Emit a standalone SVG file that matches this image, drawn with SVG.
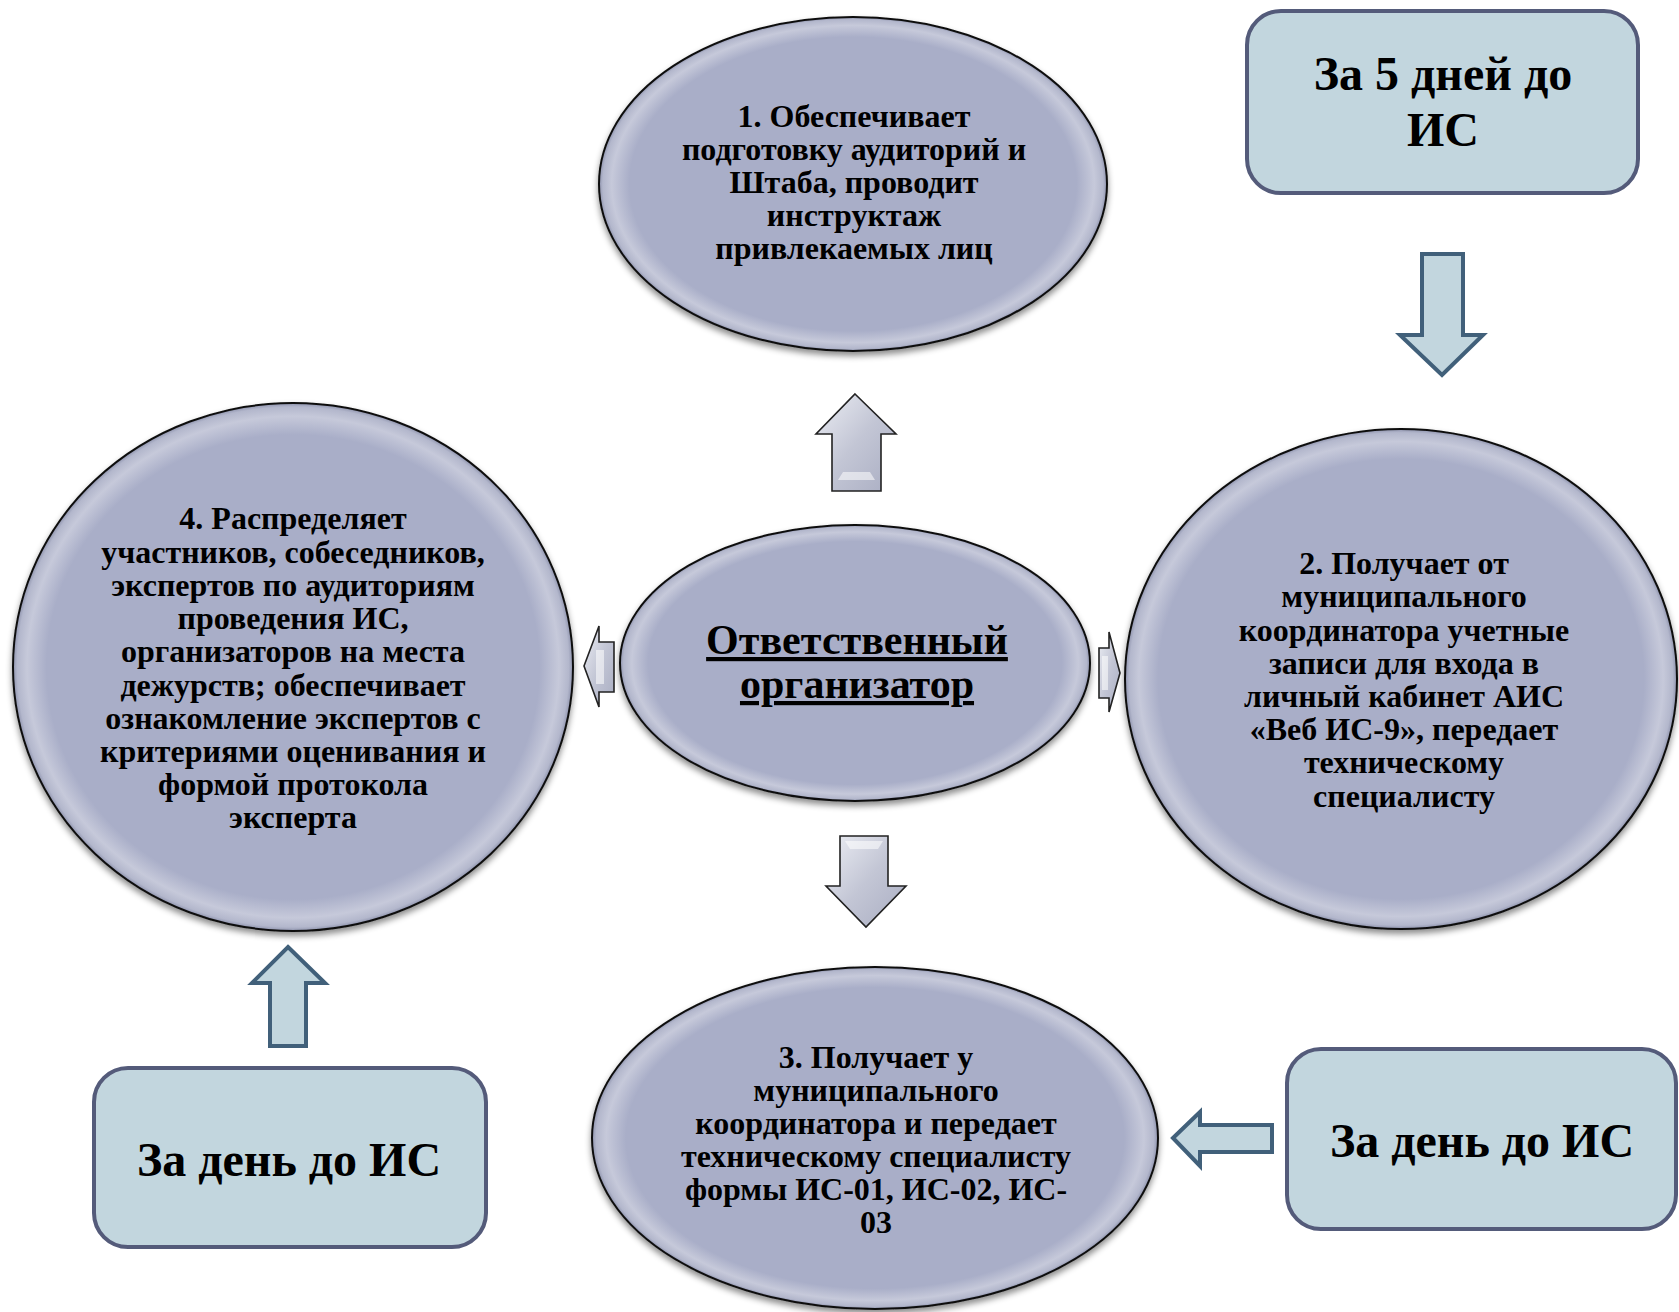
<svg xmlns="http://www.w3.org/2000/svg" width="1679" height="1312" viewBox="0 0 1679 1312">
<defs>
<radialGradient id="ellFill" cx="0.5" cy="0.5" r="0.5">
<stop offset="0" stop-color="#a9aec8"/>
<stop offset="0.88" stop-color="#a9aec8"/>
<stop offset="0.95" stop-color="#c6c9da"/>
<stop offset="0.985" stop-color="#b3b7cc"/>
<stop offset="1" stop-color="#8e93ad"/>
</radialGradient>
<linearGradient id="arrFill" x1="0" y1="0" x2="1" y2="1">
<stop offset="0" stop-color="#eceef4"/>
<stop offset="0.5" stop-color="#c3c6d5"/>
<stop offset="1" stop-color="#a9adc2"/>
</linearGradient>
<filter id="shadow" x="-10%" y="-10%" width="120%" height="125%">
<feDropShadow dx="0" dy="4" stdDeviation="3" flood-color="#000" flood-opacity="0.45"/>
</filter>
</defs>
<style>
.ell{fill:url(#ellFill);stroke:#111;stroke-width:2;filter:url(#shadow)}
.box{fill:#c2d6de;stroke:#545b7a;stroke-width:4}
.barrow{fill:#c2d6de;stroke:#41607a;stroke-width:4;stroke-linejoin:miter}
.garrow{fill:url(#arrFill);stroke:#222;stroke-width:1.6;stroke-linejoin:miter}
.hl{fill:#fff;opacity:0.55}
.t{font-family:"Liberation Serif","Times New Roman",serif;font-weight:bold;fill:#000;text-anchor:middle}
.n{font-size:32px}
.big{font-size:48px}
.ctr{font-size:42px;text-decoration:underline}
</style>
<rect width="1679" height="1312" fill="#fff"/>

<g id="connectors">
<polygon class="barrow" points="1422,254 1463,254 1463,335 1483,335 1442,375 1400,335 1422,335"/>
<polygon class="barrow" points="288,947 325,983 306,983 306,1046 270,1046 270,983 252,983"/>
<polygon class="barrow" points="1173,1138 1200,1112 1200,1125 1272,1125 1272,1152 1200,1152 1200,1166"/>
<polygon class="garrow" points="855,394 896,434 881,434 881,491 832,491 832,434 816,434"/>
<polygon class="hl" points="838,480 875,480 870,472 843,472"/>
<polygon class="garrow" points="840,836 888,836 888,886 906,886 866,927 826,886 840,886"/>
<polygon class="hl" points="845,841 883,841 878,849 850,849"/>
<polygon class="garrow" points="584,666 599,626 599,642 614,642 614,692 599,692 599,707"/>
<polygon class="hl" points="596,650 604,650 604,684 596,684"/>
<polygon class="garrow" points="1120,673 1109,632 1109,648 1099,648 1099,698 1109,698 1109,712"/>
<polygon class="hl" points="1102,656 1108,656 1108,690 1102,690"/>
</g>

<g id="node1">
<ellipse class="ell" cx="853" cy="184" rx="254" ry="167"/>
<text class="t n"><tspan x="854" y="127">1. Обеспечивает</tspan><tspan x="854" y="160">подготовку аудиторий и</tspan><tspan x="854" y="193">Штаба, проводит</tspan><tspan x="854" y="226">инструктаж</tspan><tspan x="854" y="259">привлекаемых лиц</tspan></text>
</g>

<g id="node2">
<ellipse class="ell" cx="1401" cy="679" rx="276" ry="250"/>
<text class="t n"><tspan x="1404" y="574">2. Получает от</tspan><tspan x="1404" y="607">муниципального</tspan><tspan x="1404" y="641">координатора учетные</tspan><tspan x="1404" y="674">записи для входа в</tspan><tspan x="1404" y="707">личный кабинет АИС</tspan><tspan x="1404" y="740">«Веб ИС-9», передает</tspan><tspan x="1404" y="773">техническому</tspan><tspan x="1404" y="807">специалисту</tspan></text>
</g>

<g id="node3">
<ellipse class="ell" cx="875" cy="1138" rx="283" ry="171"/>
<text class="t n"><tspan x="876" y="1068">3. Получает у</tspan><tspan x="876" y="1101">муниципального</tspan><tspan x="876" y="1134">координатора и передает</tspan><tspan x="876" y="1167">техническому специалисту</tspan><tspan x="876" y="1200">формы ИС-01, ИС-02, ИС-</tspan><tspan x="876" y="1233">03</tspan></text>
</g>

<g id="node4">
<ellipse class="ell" cx="293" cy="667" rx="280" ry="264"/>
<text class="t n"><tspan x="293" y="529">4. Распределяет</tspan><tspan x="293" y="563">участников, собеседников,</tspan><tspan x="293" y="596">экспертов по аудиториям</tspan><tspan x="293" y="629">проведения ИС,</tspan><tspan x="293" y="662">организаторов на места</tspan><tspan x="293" y="696">дежурств; обеспечивает</tspan><tspan x="293" y="729">ознакомление экспертов с</tspan><tspan x="293" y="762">критериями оценивания и</tspan><tspan x="293" y="795">формой протокола</tspan><tspan x="293" y="828">эксперта</tspan></text>
</g>

<g id="center">
<ellipse class="ell" cx="855" cy="663" rx="235" ry="138"/>
<text class="t ctr"><tspan x="857" y="654">Ответственный</tspan><tspan x="857" y="698">организатор</tspan></text>
</g>

<g id="box5days">
<rect class="box" x="1247" y="11" width="391" height="182" rx="34"/>
<text class="t big"><tspan x="1443" y="90">За 5 дней до</tspan><tspan x="1443" y="146">ИС</tspan></text>
</g>

<g id="boxDayLeft">
<rect class="box" x="94" y="1068" width="392" height="179" rx="34"/>
<text class="t big" x="289" y="1176">За день до ИС</text>
</g>

<g id="boxDayRight">
<rect class="box" x="1287" y="1049" width="389" height="180" rx="34"/>
<text class="t big" x="1482" y="1157">За день до ИС</text>
</g>
</svg>
